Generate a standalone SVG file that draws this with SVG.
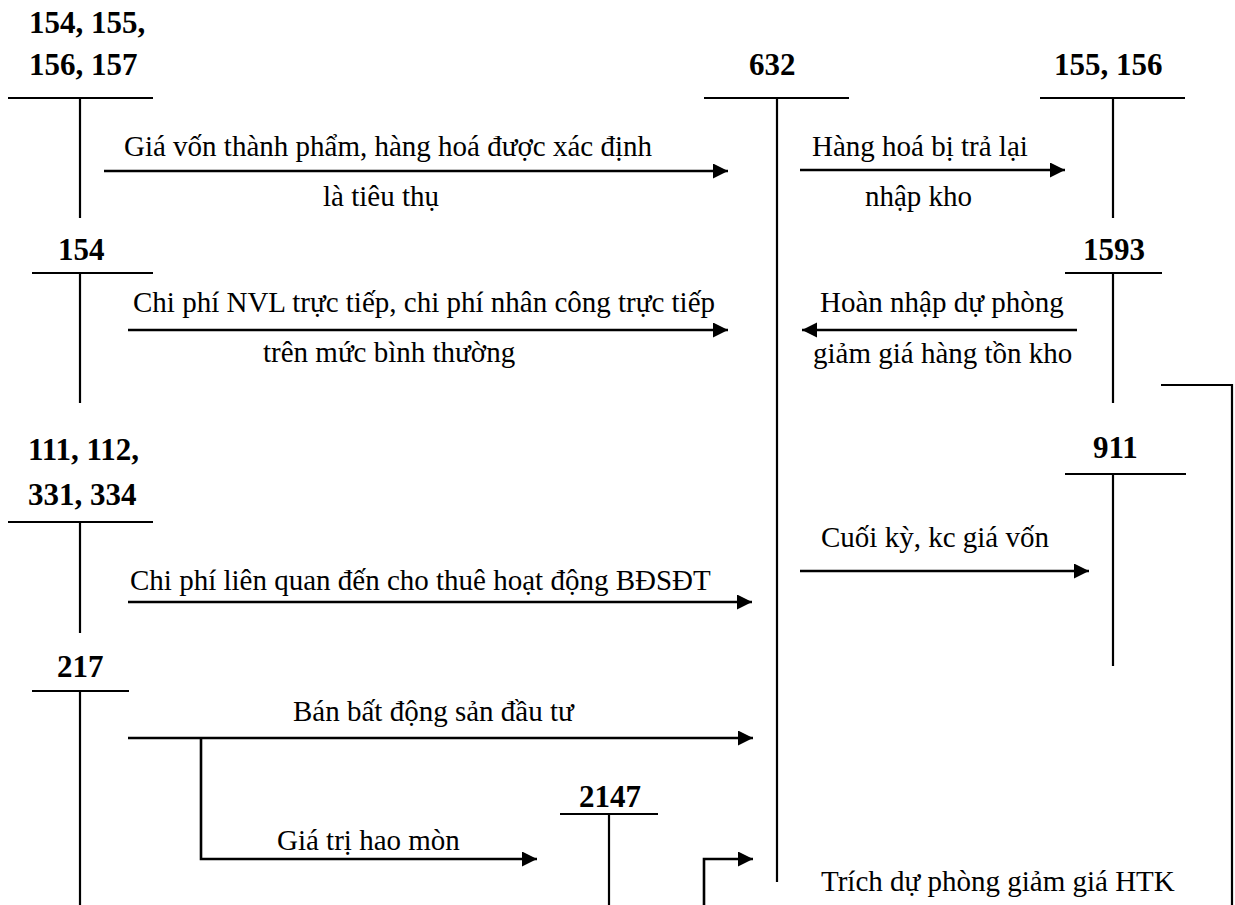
<svg xmlns="http://www.w3.org/2000/svg" width="1235" height="905" viewBox="0 0 1235 905">
<style>
.t{font-family:"Liberation Serif","Times New Roman",serif;font-size:29px;fill:#000}
.b{font-family:"Liberation Serif","Times New Roman",serif;font-size:31px;font-weight:bold;fill:#000}
.acc line{stroke:#000;stroke-width:2.2;fill:none}
.c path{stroke:#000;stroke-width:2.6;fill:none}
</style>
<defs>
<marker id="ah" markerUnits="userSpaceOnUse" markerWidth="16" markerHeight="16" refX="15" refY="7.5" orient="auto">
<path d="M0,0 L15,7.5 L0,15 z" fill="#000"/>
</marker>
</defs>
<rect width="1235" height="905" fill="#fff"/>

<g id="acc-154-155-156-157" class="acc">
<text class="b" x="29" y="33">154, 155,</text>
<text class="b" x="29" y="75">156, 157</text>
<line x1="8" y1="98" x2="153" y2="98"/>
<line x1="80" y1="98" x2="80" y2="218"/>
</g>
<g id="acc-632" class="acc">
<text class="b" x="749" y="75">632</text>
<line x1="704" y1="98" x2="849" y2="98"/>
<line x1="777" y1="98" x2="777" y2="882"/>
</g>
<g id="acc-155-156" class="acc">
<text class="b" x="1054" y="75">155, 156</text>
<line x1="1040" y1="98" x2="1185" y2="98"/>
<line x1="1113" y1="98" x2="1113" y2="218"/>
</g>
<g id="acc-154" class="acc">
<text class="b" x="58" y="260">154</text>
<line x1="32" y1="273" x2="153" y2="273"/>
<line x1="80" y1="273" x2="80" y2="403"/>
</g>
<g id="acc-1593" class="acc">
<text class="b" x="1083" y="260">1593</text>
<line x1="1065" y1="273" x2="1162" y2="273"/>
<line x1="1113" y1="273" x2="1113" y2="403"/>
</g>
<g id="acc-111-112-331-334" class="acc">
<text class="b" x="28" y="460">111, 112,</text>
<text class="b" x="28" y="505">331, 334</text>
<line x1="8" y1="522" x2="153" y2="522"/>
<line x1="80" y1="522" x2="80" y2="633"/>
</g>
<g id="acc-911" class="acc">
<text class="b" x="1093" y="458">911</text>
<line x1="1065" y1="474" x2="1186" y2="474"/>
<line x1="1113" y1="474" x2="1113" y2="666"/>
</g>
<g id="acc-217" class="acc">
<text class="b" x="57" y="677">217</text>
<line x1="32" y1="691" x2="129" y2="691"/>
<line x1="80" y1="691" x2="80" y2="905"/>
</g>
<g id="acc-2147" class="acc">
<text class="b" x="579" y="807">2147</text>
<line x1="560" y1="814" x2="658" y2="814"/>
<line x1="609" y1="814" x2="609" y2="905"/>
</g>

<g id="connectors" class="c">
<path d="M104,171 H728" marker-end="url(#ah)"/>
<path d="M800,170 H1065" marker-end="url(#ah)"/>
<path d="M128,330 H728" marker-end="url(#ah)"/>
<path d="M1077,330 H802" marker-end="url(#ah)"/>
<path d="M128,602 H752" marker-end="url(#ah)"/>
<path d="M800,571 H1089" marker-end="url(#ah)"/>
<path d="M128,738 H753" marker-end="url(#ah)"/>
<path d="M201,738 V859 H537" marker-end="url(#ah)"/>
<path d="M704,905 V859 H753" marker-end="url(#ah)"/>
<path d="M1161,385 H1232 V905" style="stroke-width:2.2"/>
</g>

<g id="labels">
<text class="t" x="124" y="156">Giá vốn thành phẩm, hàng hoá được xác định</text>
<text class="t" x="323" y="206">là tiêu thụ</text>
<text class="t" x="812" y="156">Hàng hoá bị trả lại</text>
<text class="t" x="865" y="206">nhập kho</text>
<text class="t" x="133" y="312">Chi phí NVL trực tiếp, chi phí nhân công trực tiếp</text>
<text class="t" x="263" y="362">trên mức bình thường</text>
<text class="t" x="820" y="312">Hoàn nhập dự phòng</text>
<text class="t" x="813" y="363">giảm giá hàng tồn kho</text>
<text class="t" x="130" y="590">Chi phí liên quan đến cho thuê hoạt động BĐSĐT</text>
<text class="t" x="821" y="547">Cuối kỳ, kc giá vốn</text>
<text class="t" x="293" y="721">Bán bất động sản đầu tư</text>
<text class="t" x="277" y="850">Giá trị hao mòn</text>
<text class="t" x="821" y="891">Trích dự phòng giảm giá HTK</text>
</g>
</svg>
